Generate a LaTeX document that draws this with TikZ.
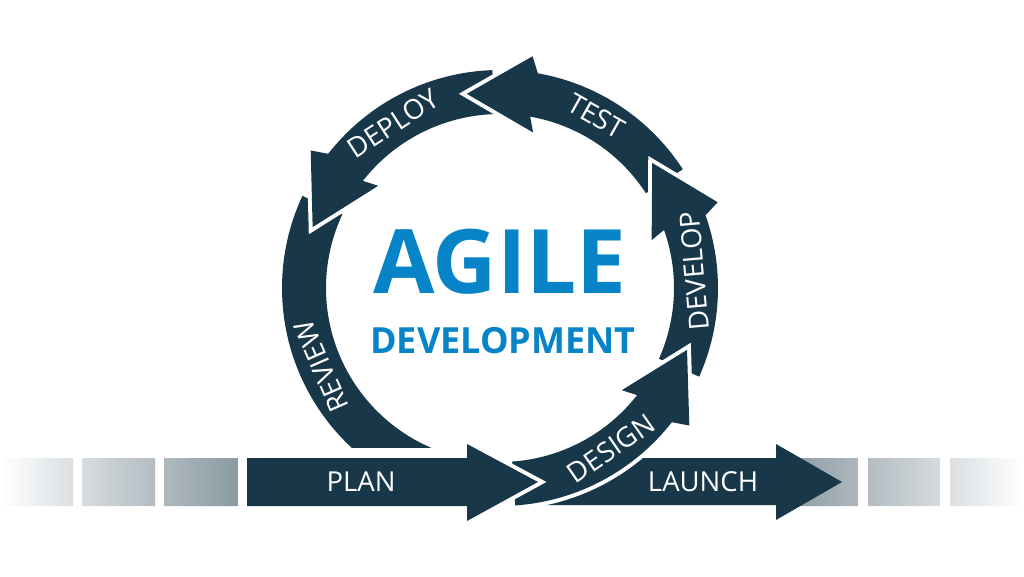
\documentclass[tikz,border=0pt]{standalone}
\usepackage{fontspec}
\setmainfont{Open Sans}
\definecolor{navy}{HTML}{18384A}
\definecolor{agblue}{HTML}{0784C8}
\definecolor{sqgray}{HTML}{8A99A2}
\begin{document}
\begin{tikzpicture}[x=1pt,y=1pt,
  band/.style={fill=navy, preaction={draw=white, line width=8pt, line join=miter}},
  lbl/.style={text=white, font=\fontsize{27.5}{27.5}\selectfont, inner sep=0pt},
  title/.style={text=agblue, inner sep=0pt},
]
\useasboundingbox (0,0) rectangle (1024,576);
\fill[white] (0,0) rectangle (1024,576);
% gray squares
\begin{scope}
  \clip (0,70) rectangle (73,118) (82,70) rectangle (155,118) (164,70) rectangle (238,118);
  \shade[left color=white, right color=sqgray] (0,70) rectangle (238,118);
\end{scope}
\begin{scope}
  \clip (785,70) rectangle (858,118) (868,70) rectangle (940,118) (950,70) rectangle (1024,118);
  \shade[left color=sqgray, right color=white] (785,70) rectangle (1024,118);
\end{scope}
% launch arrow (under the ring)
\fill[navy] (540,71) -- (776,71) -- (776,56) -- (842,94) -- (776,132) -- (776,118) -- (540,118) -- cycle;
% ring
\begin{scope}[shift={(500,288)}]
  \begin{scope}
    \clip (-500,-159) rectangle (524,288);
    \fill[navy] (155:218) arc[start angle=155,end angle=250,radius=218] -- (250:174) arc[start angle=250,end angle=155,radius=174] -- cycle;
  \end{scope}
  % deploy
  \path[band] (92:218) arc[start angle=92,end angle=142,radius=218] -- (144:234) -- (162:197) -- (140:159) -- (142:174) arc[start angle=142,end angle=92,radius=174] -- cycle;
  % test
  \path[band] (33:218) arc[start angle=33,end angle=80,radius=218] -- (82:234) -- (99.7:197) -- (78:159) -- (80:174) arc[start angle=80,end angle=33,radius=174] -- cycle;
  % develop
  \path[band] (-24:218) arc[start angle=-24,end angle=19.5,radius=218] -- (21.5:234) -- (39.4:197) -- (17.5:159) -- (19.5:174) arc[start angle=19.5,end angle=-24,radius=174] -- cycle;
  % design
  \path[band] (-86:218) arc[start angle=-86,end angle=-38,radius=218] -- (-36:234) -- (-18.3:197) -- (-40:159) -- (-38:174) arc[start angle=-38,end angle=-86,radius=174] -- cycle;
\end{scope}
% plan arrow (on top)
\path[band] (247,70) -- (467,70) -- (467,55) -- (538,94) -- (467,132) -- (467,118) -- (247,118) -- cycle;
% texts
\node[title, font=\bfseries\fontsize{89}{89}\selectfont] (agile) at (500,314) {AGILE};
\node[title, font=\bfseries\fontsize{36}{36}\selectfont] (devt) at (503,235) {DEVELOPMENT};
\node[lbl] (plan) at (361,94) {PLAN};
\node[lbl] (launch) at (703,94) {LAUNCH};
\begin{scope}[shift={(500,288)}]
  \node[lbl, rotate=113.7] (review) at (203.7:195) {REVIEW};
  \node[lbl, rotate=33] (deploy) at (123:196) {DEPLOY};
  \node[lbl, rotate=-29.3] (test) at (60.7:197) {TEST};
  \node[lbl, rotate=95] (develop) at (5:195) {DEVELOP};
  \node[lbl, rotate=34.7] (design) at (-55.3:195) {DESIGN};
\end{scope}
\end{tikzpicture}
\end{document}
